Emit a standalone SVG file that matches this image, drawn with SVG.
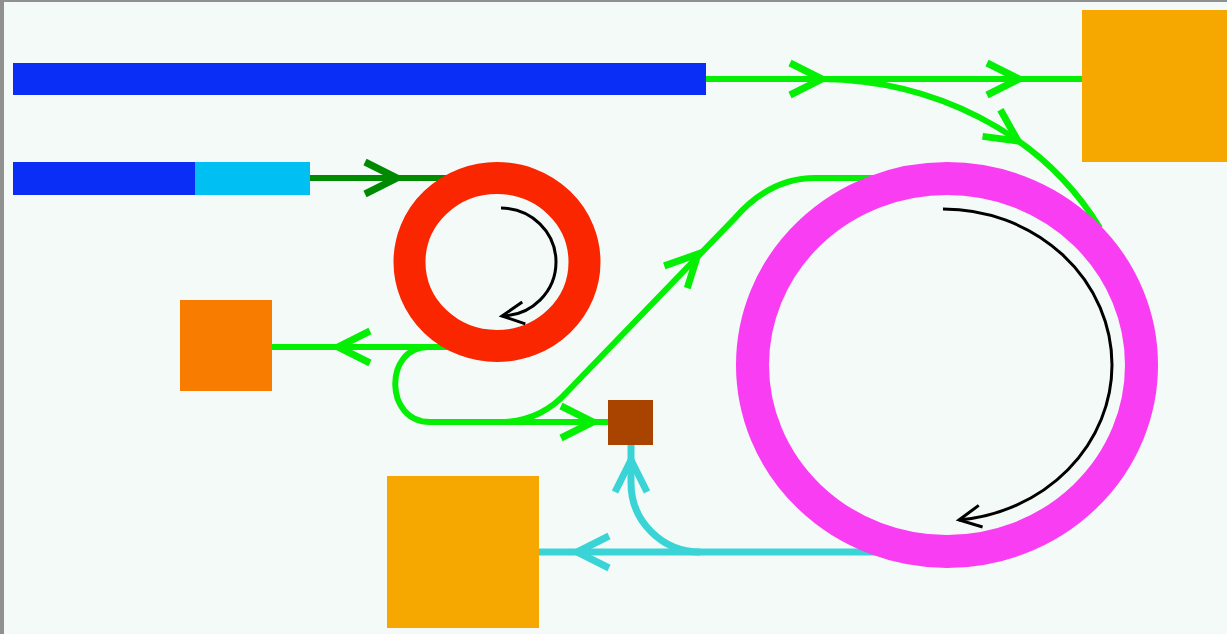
<svg xmlns="http://www.w3.org/2000/svg" width="1227" height="634" viewBox="0 0 1227 634">
  <style>
    .line { fill: none; stroke-linejoin: miter; }
    .green { stroke: #05ef05; stroke-width: 6; }
    .dkgreen { stroke: #008a00; stroke-width: 6; }
    .cyan { stroke: #3ad4d6; stroke-width: 7; }
    .black { stroke: #000; stroke-width: 3; fill: none; }
    .ring-red { fill: none; stroke: #fa2600; stroke-width: 32; }
    .ring-mag { fill: none; stroke: #f93df2; stroke-width: 33; }
  </style>
  <defs>
    <!-- open chevron head, tip at origin, pointing along +x -->
    <path id="chev" d="M -32 -16 L 0 0 L -32 16" fill="none" stroke-width="7"/>
    <path id="chevSmall" d="M -22 -11 L 0 0 L -22 11" fill="none" stroke-width="3"/>
  </defs>

  <!-- frame -->
  <rect x="0" y="0" width="1227" height="634" fill="#909090"/>
  <rect x="4" y="2" width="1223" height="632" fill="#f4faf7"/>

  <g id="connectors">
    <!-- beam line from upper bar to the right-hand target -->
    <path class="line green" d="M 704 79 L 1084 79"/>
    <path class="line green" d="M 822 79 C 930 80 1040 130 1100 228"/>
    <use href="#chev" x="822" y="79" stroke="#05ef05"/>
    <use href="#chev" x="1019" y="79" stroke="#05ef05"/>
    <use href="#chev" transform="translate(1018 141) rotate(34)" stroke="#05ef05"/>

    <!-- injection into small ring -->
    <path class="line dkgreen" d="M 308 178 L 450 178"/>
    <use href="#chev" x="397" y="178" stroke="#008a00"/>

    <!-- extraction from small ring -->
    <path class="line green" d="M 270 347 L 450 347"/>
    <use href="#chev" transform="translate(338 347) rotate(180)" stroke="#05ef05"/>
    <path class="line green" d="M 446 347 L 428 347 C 384 347 384 422 430 422 L 610 422"/>
    <use href="#chev" x="593" y="422" stroke="#05ef05"/>

    <!-- transfer line to large ring -->
    <path class="line green" d="M 488 422 L 500 422 Q 540 422 567 392 L 735 218 Q 770 178 815 178 L 880 178"/>
    <use href="#chev" transform="translate(698 254) rotate(-46)" stroke="#05ef05"/>

    <!-- extraction from large ring -->
    <path class="line cyan" d="M 537 552 L 880 552"/>
    <use href="#chev" transform="translate(577 552) rotate(180)" stroke="#3ad4d6"/>
    <path class="line cyan" d="M 700 552 A 69 69 0 0 1 631 483 L 631 443"/>
    <use href="#chev" transform="translate(631 460) rotate(-90)" stroke="#3ad4d6"/>
  </g>

  <g id="linac-long">
    <rect x="13" y="63" width="693" height="32" fill="#0a2ef5"/>
  </g>

  <g id="linac-short">
    <rect x="13" y="162" width="182" height="33" fill="#0a2ef5"/>
    <rect x="195" y="162" width="115" height="33" fill="#00bff2"/>
  </g>

  <g id="ring-small">
    <ellipse class="ring-red" cx="497" cy="262" rx="87.5" ry="84"/>
    <path class="black" d="M 501 208 A 55 54 0 0 1 556 262 A 55 54 0 0 1 502 316"/>
    <use href="#chevSmall" transform="translate(502 316) rotate(172)" stroke="#000"/>
  </g>

  <g id="ring-large">
    <ellipse class="ring-mag" cx="947" cy="365" rx="194.5" ry="186.5"/>
    <path class="black" d="M 943 209 A 169 156 0 0 1 1112 365 A 169 156 0 0 1 959 520"/>
    <use href="#chevSmall" transform="translate(959 520) rotate(170)" stroke="#000"/>
  </g>

  <g id="target-top-right">
    <rect x="1082" y="10" width="145" height="152" fill="#f7a800"/>
  </g>

  <g id="target-left">
    <rect x="180" y="300" width="92" height="91" fill="#f77c00"/>
  </g>

  <g id="target-small">
    <rect x="608" y="400" width="45" height="45" fill="#a84300"/>
  </g>

  <g id="target-bottom">
    <rect x="387" y="476" width="152" height="152" fill="#f7a800"/>
  </g>
</svg>
